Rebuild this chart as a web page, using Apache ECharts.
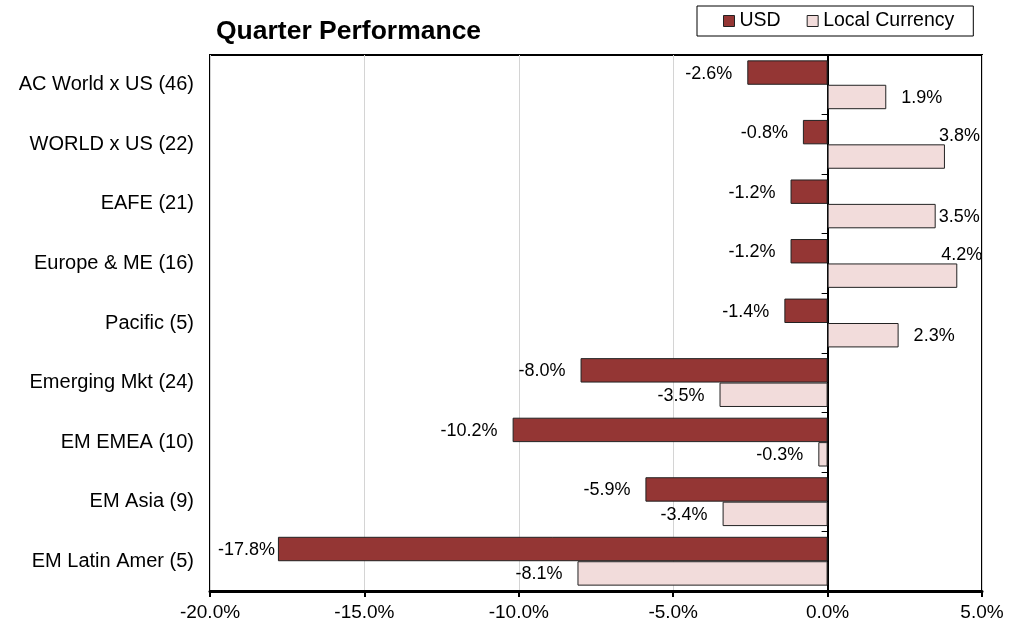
<!DOCTYPE html>
<html>
<head>
<meta charset="utf-8">
<style>
  html, body { margin: 0; padding: 0; background: #fff; }
  #chart-container { width: 1021px; height: 626px; }
</style>
<script src="https://cdn.jsdelivr.net/npm/echarts@6/dist/echarts.min.js"></script>
</head>
<body>
<div id="chart-container"></div>
<script>
var categories = [
  "AC World x US (46)",
  "WORLD x US (22)",
  "EAFE (21)",
  "Europe & ME (16)",
  "Pacific (5)",
  "Emerging Mkt (24)",
  "EM EMEA (10)",
  "EM Asia (9)",
  "EM Latin Amer (5)"
];
var usd = [-2.6, -0.8, -1.2, -1.2, -1.4, -8.0, -10.2, -5.9, -17.8];
var localCcy = [1.9, 3.8, 3.5, 4.2, 2.3, -3.5, -0.3, -3.4, -8.1];
var xTicks = { min: -20, max: 5, step: 5 };

// labels that had to be nudged to stay inside the plot
var usdLabelFix = {
  8: { distance: 3 }
};
var localLabelFix = {
  1: { position: ["100%", 0], align: "left", verticalAlign: "middle", offset: [-6, -8] },
  2: { distance: 3 },
  3: { position: ["100%", 0], align: "left", verticalAlign: "middle", offset: [-16, -8] }
};

var font = "Arial, 'Liberation Sans', sans-serif";

function pct(v) {
  return v.toFixed(1) + "%";
}

function buildData(values, fix) {
  return values.map(function (v, i) {
    var label = { position: v < 0 ? "left" : "right" };
    if (fix[i]) Object.assign(label, fix[i]);
    return { value: v, label: label };
  });
}

var dom = document.getElementById("chart-container");
var myChart = echarts.init(dom, null, { renderer: "canvas" });

var barLabel = {
  show: true,
  distance: 15,
  color: "#000",
  fontSize: 18,
  fontFamily: font,
  offset: [0, 1],
  formatter: function (p) {
    return pct(p.value);
  }
};

var option = {
  animation: false,
  backgroundColor: "#fff",
  title: {
    text: "Quarter Performance",
    left: 216,
    top: 18,
    padding: 0,
    textStyle: { fontSize: 26.5, fontWeight: "bold", color: "#000", fontFamily: font }
  },
  legend: {
    left: 697,
    top: 6,
    padding: [5, 19, 5, 26],
    itemWidth: 11,
    itemHeight: 11,
    itemGap: 26,
    borderColor: "#000",
    borderWidth: 1,
    icon: "rect",
    textStyle: { fontSize: 19.5, color: "#000", fontFamily: font },
    data: [
      { name: "USD", itemStyle: { color: "#943634", borderColor: "#222", borderWidth: 1 } },
      { name: "Local Currency", itemStyle: { color: "#F2DCDB", borderColor: "#222", borderWidth: 1 } }
    ]
  },
  grid: {
    left: 210,
    right: 39,
    top: 55,
    bottom: 35,
    show: true,
    borderColor: "#000",
    borderWidth: 2
  },
  xAxis: {
    type: "value",
    min: xTicks.min,
    max: xTicks.max,
    interval: xTicks.step,
    axisLine: { show: true, lineStyle: { color: "#000", width: 3 } },
    axisTick: { show: true, length: 6, lineStyle: { color: "#000", width: 2 } },
    axisLabel: {
      fontSize: 19,
      color: "#000",
      fontFamily: font,
      margin: 12,
      formatter: pct
    },
    splitLine: { show: true, lineStyle: { color: "#d4d4d4", width: 1 } }
  },
  yAxis: [
    {
      type: "category",
      data: categories,
      inverse: true,
      position: "left",
      axisLine: { show: false, onZero: false },
      axisTick: { show: false },
      axisLabel: { fontSize: 20, color: "#000", fontFamily: font, margin: 16 }
    },
    {
      type: "category",
      data: categories,
      inverse: true,
      position: "right",
      axisLine: { show: true, onZero: true, lineStyle: { color: "#000", width: 2 } },
      axisTick: { show: true, inside: true, length: 6, lineStyle: { color: "#000", width: 1 } },
      axisLabel: { show: false },
      splitLine: { show: false }
    }
  ],
  series: [
    {
      name: "USD",
      type: "bar",
      yAxisIndex: 0,
      barCategoryGap: "18%",
      barGap: "0%",
      itemStyle: { color: "#943634", borderColor: "#222", borderWidth: 1 },
      label: barLabel,
      data: buildData(usd, usdLabelFix)
    },
    {
      name: "Local Currency",
      type: "bar",
      yAxisIndex: 0,
      barCategoryGap: "18%",
      barGap: "0%",
      itemStyle: { color: "#F2DCDB", borderColor: "#222", borderWidth: 1 },
      label: barLabel,
      data: buildData(localCcy, localLabelFix)
    }
  ]
};

myChart.setOption(option);
window.addEventListener("resize", myChart.resize);
</script>
</body>
</html>
